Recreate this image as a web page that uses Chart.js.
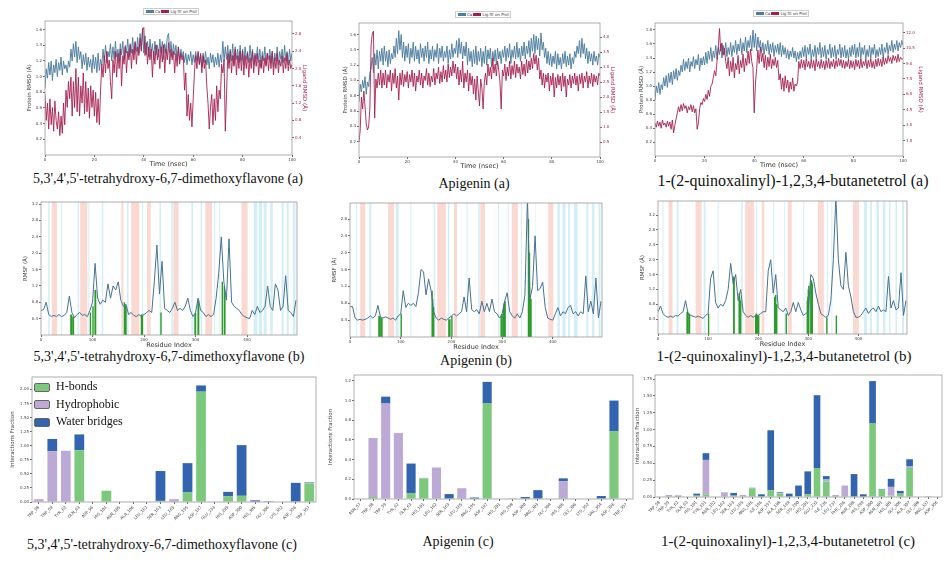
<!DOCTYPE html>
<html>
<head>
<meta charset="utf-8">
<script src="https://cdn.jsdelivr.net/npm/chart.js@4.4.1/dist/chart.umd.min.js"></script>
<style>
body { margin: 0; background: #fff; }
#fig { position: relative; width: 945px; height: 564px; overflow: hidden; background: #fff; }
.cap { position: absolute; font-family: "Liberation Serif", serif; font-size: 14px; color: #111; white-space: nowrap; transform: translate(-50%, -50%); }
.lg { position: absolute; font-family: "DejaVu Sans", sans-serif; font-size: 4px; line-height: 4px; color: #333; border: 0.5px solid #ccc; padding: 0.5px 1px; white-space: nowrap; z-index: 5; }
.lg i { display: inline-block; width: 8px; height: 3px; margin: 0 1px; vertical-align: middle; }
.blg { position: absolute; font-family: "Liberation Serif", serif; font-size: 12px; line-height: 17.5px; color: #111; z-index: 5; }
.blg i { display: inline-block; width: 14px; height: 7px; border: 1px solid #666; border-radius: 2px; margin-right: 6px; vertical-align: middle; }
</style>
</head>
<body>
<div id="fig">
  <div class="lg" style="left:143px;top:8px"><i style="background:#4e7d9e"></i>Cα<i style="background:#a31e4d"></i>Lig fit on Prot</div>
  <div class="lg" style="left:455px;top:11px"><i style="background:#4e7d9e"></i>Cα<i style="background:#a31e4d"></i>Lig fit on Prot</div>
  <div class="lg" style="left:753px;top:10px"><i style="background:#4e7d9e"></i>Cα<i style="background:#a31e4d"></i>Lig fit on Prot</div>

  <div class="blg" style="left:34px;top:378px">
    <div><i style="background:#7cc87c"></i>H-bonds</div>
    <div><i style="background:#bca9d5"></i>Hydrophobic</div>
    <div><i style="background:#3264b0"></i>Water bridges</div>
  </div>

  <div class="cap" style="left:168px;top:179px">5,3',4',5'-tetrahydroxy-6,7-dimethoxyflavone (a)</div>
  <div class="cap" style="left:474px;top:184px">Apigenin (a)</div>
  <div class="cap" style="left:793px;top:181px;font-size:16px">1-(2-quinoxalinyl)-1,2,3,4-butanetetrol (a)</div>
  <div class="cap" style="left:169px;top:357px">5,3',4',5'-tetrahydroxy-6,7-dimethoxyflavone (b)</div>
  <div class="cap" style="left:476px;top:361px">Apigenin (b)</div>
  <div class="cap" style="left:784px;top:356px;font-size:15px">1-(2-quinoxalinyl)-1,2,3,4-butanetetrol (b)</div>
  <div class="cap" style="left:162px;top:545px">5,3',4',5'-tetrahydroxy-6,7-dimethoxyflavone (c)</div>
  <div class="cap" style="left:458px;top:542px">Apigenin (c)</div>
  <div class="cap" style="left:788px;top:541px;font-size:15px">1-(2-quinoxalinyl)-1,2,3,4-butanetetrol (c)</div>
</div>
<script>
// time in ns, one frame every 0.5 ns
var time = [];
for (var i = 0; i <= 200; i++) time.push(i / 2);

// RMSD, 5,3',4',5'-tetrahydroxy-6,7-dimethoxyflavone (protein: left axis, ligand: right axis)
var prot1 = [
  0.85,1.1,0.98,1.18,1.02,1.2,0.95,1.15,1.05,1.22,1.0,1.18,1.08,1.25,1.02,1.2,1.1,1.15,1.05,1.2,
  1.12,1.35,1.2,1.42,1.25,1.45,1.18,1.38,1.22,1.32,1.1,1.28,1.15,1.3,1.08,1.25,1.12,1.22,1.05,1.28,
  1.1,1.25,1.05,1.3,1.08,1.22,1.15,1.35,1.2,1.4,1.18,1.32,1.25,1.42,1.2,1.38,1.22,1.45,1.25,1.35,
  1.2,1.42,1.28,1.45,1.22,1.4,1.3,1.48,1.25,1.42,1.3,1.5,1.28,1.45,1.32,1.5,1.3,1.55,1.35,1.62,
  1.3,1.52,1.28,1.45,1.25,1.48,1.3,1.42,1.22,1.45,1.28,1.4,1.25,1.48,1.3,1.45,1.22,1.42,1.3,1.5,
  1.55,1.3,1.45,1.25,1.42,1.28,1.4,1.22,1.38,1.2,1.35,1.25,1.32,1.18,1.3,1.15,1.28,1.2,1.32,1.15,
  1.28,1.18,1.32,1.2,1.3,1.15,1.28,1.12,1.3,1.18,1.32,1.15,1.25,1.1,1.3,1.18,1.28,1.12,1.25,1.15,
  1.3,1.12,1.28,1.18,1.45,1.2,1.38,1.22,1.4,1.18,1.35,1.2,1.42,1.15,1.38,1.22,1.35,1.18,1.4,1.2,
  1.35,1.15,1.38,1.22,1.32,1.18,1.4,1.2,1.35,1.15,1.3,1.22,1.38,1.18,1.35,1.12,1.32,1.2,1.38,1.15,
  1.3,1.22,1.35,1.18,1.32,1.12,1.3,1.2,1.38,1.15,1.32,1.22,1.35,1.18,1.4,1.2,1.32,1.15,1.35,1.2,
  1.3];
var lig1 = [
  1.4,0.8,1.2,0.6,1.3,0.7,1.1,0.55,1.25,0.8,0.6,1.0,0.45,0.9,0.5,1.2,0.7,1.5,1.1,1.7,
  1.3,1.8,0.9,1.7,1.1,2.0,1.0,1.8,0.9,1.6,1.2,1.9,0.95,1.7,1.0,1.55,0.85,1.6,1.1,1.5,
  0.9,1.45,0.75,1.3,0.7,1.5,2.1,1.8,2.3,1.9,2.4,2.0,2.2,1.7,1.3,2.2,1.9,2.4,1.8,2.35,
  2.0,2.45,1.6,2.3,2.1,2.5,1.9,2.4,2.2,2.55,2.0,2.45,2.2,2.6,2.1,2.5,2.3,2.7,2.4,2.9,
  2.95,2.3,2.6,2.1,2.5,2.2,2.45,1.8,2.4,2.1,2.55,2.2,2.45,2.0,2.5,2.15,2.55,1.9,2.45,2.2,
  2.6,2.1,2.45,2.2,2.4,1.9,2.35,2.05,2.5,2.1,2.35,2.2,2.3,1.5,1.9,0.9,1.4,0.8,1.2,0.65,
  1.3,1.9,2.3,2.0,2.4,2.1,2.35,1.9,2.3,2.0,2.2,1.6,1.2,0.6,1.1,1.4,0.7,1.3,0.8,1.6,
  1.0,1.5,1.3,2.1,1.9,2.2,0.55,1.4,2.35,2.0,2.4,1.9,2.3,2.05,2.45,1.85,2.3,2.0,2.4,1.95,
  2.4,1.85,2.3,2.0,2.35,1.8,2.25,2.0,2.4,1.9,2.3,2.05,2.35,1.85,2.2,2.0,2.3,1.9,2.25,2.05,
  2.35,1.95,2.3,2.0,2.4,1.85,2.25,2.0,2.35,1.9,2.2,2.05,2.3,1.9,2.25,2.0,2.35,1.95,2.2,2.0,
  2.1];

// RMSD, apigenin
var prot2 = [
  0.72,0.95,0.85,1.0,0.9,1.05,0.82,0.98,0.92,1.1,1.15,1.3,1.1,1.35,1.2,1.4,1.15,1.38,1.25,1.42,
  1.2,1.45,1.25,1.38,1.18,1.4,1.22,1.35,1.28,1.45,1.3,1.55,1.35,1.65,1.4,1.6,1.3,1.5,1.25,1.45,
  1.3,1.48,1.22,1.42,1.3,1.5,1.25,1.45,1.28,1.4,1.22,1.48,1.3,1.42,1.25,1.45,1.3,1.5,1.22,1.4,
  1.28,1.45,1.25,1.4,1.3,1.48,1.22,1.42,1.3,1.45,1.25,1.38,1.3,1.45,1.22,1.4,1.28,1.48,1.3,1.42,
  1.35,1.52,1.3,1.55,1.35,1.5,1.28,1.45,1.32,1.5,1.2,1.42,1.25,1.38,1.18,1.4,1.22,1.45,1.2,1.38,
  1.25,1.42,1.18,1.38,1.22,1.45,1.2,1.4,1.28,1.42,1.18,1.38,1.25,1.4,1.2,1.42,1.28,1.38,1.22,1.4,
  1.3,1.45,1.25,1.42,1.3,1.48,1.22,1.4,1.3,1.45,1.28,1.5,1.3,1.42,1.25,1.45,1.32,1.5,1.28,1.45,
  1.35,1.52,1.3,1.55,1.38,1.6,1.35,1.58,1.4,1.55,1.32,1.62,1.4,1.5,1.3,1.42,1.22,1.38,1.2,1.35,
  1.18,1.32,1.22,1.38,1.15,1.35,1.2,1.3,1.15,1.35,1.22,1.38,1.18,1.32,1.2,1.35,1.15,1.3,1.22,1.38,
  1.3,1.45,1.35,1.52,1.3,1.55,1.35,1.48,1.28,1.42,1.22,1.38,1.25,1.35,1.2,1.38,1.25,1.32,1.2,1.35,
  1.3];
var lig2 = [
  0.5,0.9,2.0,1.6,2.2,1.7,1.1,0.9,1.0,1.6,3.7,4.1,4.2,1.3,2.6,2.3,2.8,2.4,2.9,2.3,
  2.8,2.4,2.9,2.3,2.75,2.5,2.9,2.2,2.8,2.45,2.95,2.3,2.7,1.9,2.8,2.4,2.9,2.35,2.75,2.5,
  2.85,2.3,2.75,2.5,2.9,2.35,2.8,2.2,2.7,2.5,2.9,2.4,2.8,2.3,2.7,2.55,2.95,2.4,2.8,2.35,
  2.7,2.5,2.95,2.4,2.8,2.6,3.0,2.45,2.85,2.5,3.05,2.6,2.9,2.5,3.1,2.65,3.0,2.7,3.2,2.8,
  3.1,2.6,3.0,2.4,2.9,2.5,3.2,2.3,2.8,2.5,2.9,2.2,2.8,2.4,2.7,2.1,2.6,1.9,2.7,2.2,
  1.7,2.6,2.3,1.6,2.5,2.8,2.4,3.1,2.7,3.0,2.6,3.3,2.8,3.1,2.7,3.2,2.9,2.5,1.6,2.9,
  2.7,3.1,2.55,3.0,2.7,3.2,2.6,3.05,2.75,3.2,2.65,3.1,2.8,3.0,2.6,3.2,2.75,3.1,2.7,3.25,
  2.8,3.2,2.9,3.3,2.95,3.45,3.1,3.4,2.9,3.3,2.6,2.9,2.4,2.8,2.3,2.75,2.5,2.8,2.2,2.7,
  2.4,2.8,2.0,2.65,2.3,2.75,2.4,2.7,2.2,2.8,2.35,2.7,2.0,2.6,2.4,2.75,2.3,2.7,2.45,2.8,
  2.4,2.7,2.2,2.75,2.45,2.8,2.3,2.7,2.5,2.85,2.3,2.7,2.45,2.8,2.35,2.75,2.5,2.7,2.4,2.8,
  2.7];

// RMSD, 1-(2-quinoxalinyl)-1,2,3,4-butanetetrol
var prot3 = [
  0.8,1.0,0.9,1.05,0.88,1.02,0.95,1.12,1.0,1.15,0.98,1.18,1.05,1.2,1.02,1.22,1.1,1.25,1.08,1.22,
  1.15,1.3,1.2,1.38,1.22,1.35,1.25,1.4,1.2,1.35,1.28,1.42,1.25,1.38,1.3,1.45,1.22,1.4,1.3,1.42,
  1.3,1.48,1.32,1.5,1.38,1.55,1.35,1.5,1.4,1.58,1.38,1.55,1.45,1.6,1.4,1.58,1.45,1.62,1.42,1.55,
  1.45,1.62,1.42,1.58,1.48,1.65,1.45,1.6,1.5,1.68,1.45,1.62,1.5,1.7,1.48,1.65,1.55,1.72,1.5,1.8,
  1.55,1.75,1.5,1.7,1.55,1.65,1.48,1.62,1.45,1.6,1.5,1.65,1.45,1.6,1.48,1.62,1.42,1.58,1.48,1.6,
  1.45,1.62,1.42,1.58,1.45,1.55,1.4,1.52,1.38,1.5,1.42,1.55,1.4,1.5,1.35,1.48,1.38,1.5,1.4,1.55,
  1.42,1.58,1.4,1.55,1.45,1.6,1.38,1.52,1.42,1.58,1.4,1.55,1.45,1.62,1.4,1.55,1.42,1.58,1.38,1.52,
  1.45,1.6,1.4,1.55,1.42,1.58,1.38,1.52,1.45,1.6,1.4,1.55,1.42,1.58,1.4,1.52,1.38,1.55,1.42,1.58,
  1.45,1.6,1.4,1.55,1.42,1.62,1.4,1.55,1.45,1.58,1.38,1.52,1.42,1.58,1.4,1.55,1.45,1.6,1.4,1.52,
  1.42,1.55,1.45,1.6,1.4,1.55,1.48,1.62,1.45,1.58,1.5,1.65,1.48,1.6,1.52,1.65,1.5,1.62,1.55,1.65,
  1.58];
var lig3 = [
  3.2,2.8,3.4,2.9,3.3,2.7,3.5,3.0,3.2,2.8,3.4,2.9,3.3,2.6,3.5,2.25,3.0,3.6,4.2,4.8,
  4.3,5.0,4.4,5.1,4.6,4.9,4.2,4.8,4.5,5.0,4.3,4.9,4.2,4.6,2.6,3.2,4.6,5.2,5.0,5.6,
  5.3,6.0,5.5,6.4,5.8,6.8,7.0,7.6,8.3,7.8,9.2,10.5,12.4,10.2,11.0,9.8,10.5,9.2,8.5,9.6,
  7.8,9.2,8.2,9.6,7.6,9.0,8.4,9.8,8.0,9.3,8.6,9.9,8.2,9.5,8.8,10.2,9.0,10.4,9.2,8.6,
  4.2,7.0,8.5,10.3,9.0,10.6,9.2,10.0,8.6,9.8,8.4,9.6,8.7,9.9,8.5,9.4,8.8,9.6,8.6,9.3,
  7.4,8.0,6.5,7.6,6.3,7.8,6.6,7.4,6.2,7.2,6.5,7.6,6.3,7.0,6.8,7.2,9.2,8.5,9.4,8.6,
  9.3,8.4,9.5,8.7,9.2,8.5,9.4,8.6,9.3,8.3,9.5,8.7,9.2,8.5,9.4,8.6,9.2,8.4,9.3,8.6,
  9.5,8.5,9.2,8.7,9.4,8.5,9.3,8.7,9.5,8.8,9.4,8.6,9.3,8.5,9.2,8.7,9.4,8.5,9.3,8.6,
  9.2,8.4,9.4,8.7,9.3,8.5,9.5,8.6,9.2,8.8,9.4,8.5,9.3,8.7,9.5,8.6,9.2,8.5,9.4,8.7,
  9.5,8.8,9.4,8.7,9.6,8.9,9.5,9.0,9.8,9.2,9.6,9.0,9.8,9.3,9.7,9.1,9.9,9.2,9.6,9.4,
  9.5];

// RMSF, residues sampled every 5
var residues = [];
for (var r = 0; r < 500; r += 5) residues.push(r);

var rmsf1 = [0.6,0.62,0.8,0.5,0.45,0.48,0.45,0.5,0.45,0.48,
  0.55,0.95,0.55,0.42,0.5,0.55,0.48,0.5,0.45,0.6,
  0.8,1.75,0.9,0.75,0.85,0.8,1.25,0.9,1.2,1.1,
  1.3,0.85,0.7,0.75,0.5,0.55,0.48,0.45,0.5,0.45,
  0.5,0.55,0.6,0.55,1.3,2.2,1.0,1.8,0.65,0.6,
  0.55,0.65,0.8,0.6,0.65,0.6,0.7,0.9,0.6,0.45,
  0.55,0.9,0.6,0.55,0.45,0.5,0.45,0.5,0.9,1.5,
  2.4,1.3,0.85,2.35,0.8,0.7,0.65,0.6,0.5,0.45,
  0.42,0.4,0.6,0.5,0.7,0.55,0.6,0.7,1.2,0.7,
  0.6,1.25,1.1,0.6,0.7,1.45,0.6,0.55,0.45,0.85];
var rmsf2 = [0.72,0.72,0.45,0.4,0.42,0.4,0.42,0.45,0.5,0.45,
  0.5,0.75,0.48,0.45,0.48,0.45,0.42,0.45,0.4,0.5,
  0.55,1.1,0.7,0.8,0.75,0.8,0.72,1.05,1.6,1.55,
  1.0,1.38,1.1,0.6,0.45,0.4,0.45,0.42,0.4,0.45,
  0.5,0.55,0.5,0.55,0.6,0.95,0.6,1.4,0.65,0.6,
  0.65,0.55,0.85,0.6,0.8,0.6,0.9,0.6,0.55,0.45,
  0.55,0.85,1.05,0.6,0.5,0.45,0.55,0.45,0.6,1.0,
  3.3,0.9,1.2,2.4,1.1,1.15,1.3,0.7,0.45,0.42,
  0.4,0.55,0.7,0.5,0.6,0.55,0.7,0.75,0.55,0.6,
  0.5,0.6,0.55,1.45,0.6,0.85,0.55,1.4,0.45,0.85];
var rmsf3 = [0.6,0.75,0.55,0.48,0.45,0.48,0.45,0.5,0.48,0.55,
  0.6,0.9,0.55,0.5,0.48,0.45,0.48,0.45,0.42,0.5,
  0.55,1.5,1.7,0.85,0.7,0.8,0.75,0.9,1.2,1.9,
  1.35,1.6,0.9,1.2,0.6,0.5,0.45,0.5,0.45,0.5,
  0.5,0.55,0.6,0.6,1.7,2.0,1.1,1.6,0.7,0.65,
  0.6,0.7,0.5,0.6,0.85,0.6,0.85,0.65,0.5,0.55,
  0.6,1.6,1.5,1.1,0.8,0.55,0.5,0.45,0.5,0.9,
  2.0,3.7,2.0,1.3,1.2,2.2,1.3,1.0,0.6,0.45,
  0.45,0.5,0.6,0.7,0.55,0.65,0.7,0.6,0.75,0.6,
  0.65,0.6,1.55,0.7,0.9,0.65,0.7,1.65,0.5,0.9];

// secondary structure ranges (residue from, to)
var helix1 = [[21,31],[76,90],[156,160],[175,191],[206,213],[257,267],[319,332],[389,401]];
var strand1 = [[14,17],[39,41],[71,74],[92,94],[118,121],[167,170],[196,198],[230,233],[253,256],[292,295],[310,313],[336,338],[346,348],[413,420],[423,429],[432,438],[445,450],[467,471],[477,481],[489,494]];
var helix2 = [[20,30],[75,87],[172,189],[205,211],[257,266],[319,331],[391,401]];
var strand2 = [[12,14],[38,42],[90,96],[119,121],[165,168],[193,196],[230,232],[253,256],[292,294],[311,313],[337,339],[366,367],[409,414],[419,425],[430,434],[442,449],[466,470],[477,482],[490,494]];
var helix3 = [[21,29],[75,87],[174,192],[207,212],[259,267],[319,331],[389,401]];
var strand3 = [[9,11],[37,41],[91,95],[119,121],[166,169],[196,198],[230,232],[252,254],[290,292],[337,339],[346,348],[411,417],[423,427],[436,441],[449,454],[461,464],[474,477],[487,491]];

// ligand contacts on the RMSF plots
var contacts1 = [58,59,62,63,96,101,105,106,162,163,165,195,197,233,299,300,305,306,352,356,357];
var contactH1 = [0.5,0.5,0.45,0.45,0.55,0.7,1.1,1.1,0.8,0.75,0.7,0.5,0.5,0.55,0.5,0.55,0.85,0.85,1.3,1.2,1.0];
var contacts2 = [57,58,59,62,63,101,162,163,165,195,197,201,298,300,303,304,305,306,352,354,356,357];
var contactH2 = [0.5,0.5,0.5,0.45,0.45,0.55,1.1,0.9,0.7,0.42,0.42,0.5,0.5,0.55,0.75,0.8,0.85,0.85,2.8,2.0,0.9,0.9];
var contacts3 = [58,59,62,63,101,151,152,162,163,165,195,196,197,198,199,200,201,233,235,237,256,298,299,300,301,305,306,307,308,337,356];
var contactH3 = [0.6,0.6,0.55,0.55,0.55,1.55,1.5,1.1,1.0,0.9,0.5,0.55,0.55,0.5,0.5,0.5,0.5,1.0,1.05,0.8,0.55,0.9,1.0,1.2,1.3,1.45,1.45,1.4,1.35,0.45,0.5];

// interaction fractions
var res1 = ['TRP_58','TRP_59','TYR_62','GLN_63','ASP_96','HIS_101','ASN_105','ALA_106','LEU_162','SER_163','LEU_165','ARG_195','ASP_197','GLU_233','HIS_299','ASP_300','HIS_305','GLY_306','LYS_352','ASP_356','TRP_357'];
var hb1 = [0,0,0,0.92,0,0.2,0,0,0,0.02,0.01,0.17,1.96,0,0.1,0.11,0,0,0,0.01,0.33];
var hp1 = [0.05,0.9,0.91,0,0,0,0,0,0,0,0.04,0,0,0,0,0,0,0,0,0,0.01];
var wb1 = [0,0.22,0,0.28,0,0,0,0,0,0.53,0,0.52,0.11,0,0.08,0.9,0.03,0.015,0,0.33,0.01];

var res2 = ['ASN_57','TRP_58','TRP_59','TYR_62','GLN_63','HIS_101','LEU_162','SER_163','LEU_165','ARG_195','ASP_197','HIS_201','HIS_298','ASP_300','ARG_303','GLY_304','HIS_305','GLY_306','LYS_352','VAL_354','ASP_356','TRP_357'];
var hb2 = [0,0.02,0,0,0.06,0.21,0,0,0,0,0.97,0,0,0,0,0,0.01,0,0,0,0.69,0];
var hp2 = [0,0.6,0.97,0.67,0,0.005,0.32,0,0.11,0,0,0,0.008,0,0,0,0.17,0,0,0,0,0];
var wb2 = [0,0,0.07,0,0.3,0,0,0.05,0,0.015,0.22,0,0,0.02,0.09,0,0.03,0,0,0.03,0.31,0];

var res3 = ['TRP_58','TRP_59','TYR_62','GLN_63','HIS_101','TYR_151','ASN_152','LEU_162','SER_163','LEU_165','ARG_195','ILE_196','ASP_197','ALA_198','SER_199','LYS_200','HIS_201','GLU_233','ILE_235','LEU_237','PHE_256','ASN_298','HIS_299','ASP_300','ASN_301','HIS_305','GLY_306','ALA_307','GLY_308','ARG_337','ASP_356'];
var hb3 = [0,0,0,0,0.02,0.04,0,0,0.02,0,0.13,0,0.1,0.05,0,0.01,0.04,0.43,0.23,0,0,0,0,1.09,0.11,0.02,0.05,0.43,0,0,0];
var hp3 = [0,0.03,0.01,0,0,0.51,0,0.07,0,0.03,0.01,0,0,0.01,0,0,0,0,0.03,0.03,0.17,0,0,0,0,0.13,0,0.03,0,0,0];
var wb3 = [0,0,0.01,0,0.03,0.1,0,0,0.04,0,0,0.04,0.89,0.01,0.05,0.16,0.34,1.08,0.05,0,0,0.34,0.04,0.63,0.01,0.12,0.04,0.1,0,0.01,0];

Chart.defaults.font.family = "'DejaVu Sans', sans-serif";
Chart.defaults.color = '#444';
Chart.defaults.animation = false;

function pts(xs, ys) {
  return xs.map(function (x, i) { return { x: x, y: ys[i] }; });
}

// vertical stems from 0 up to h, broken by null points
function stems(xs, hs) {
  var out = [];
  xs.forEach(function (x, i) {
    out.push({ x: x, y: 0 }, { x: x, y: hs[i] }, { x: x, y: null });
  });
  return out;
}

// canvas sized so the plot area lands on g (l,t,r,b)
function canvasFor(g, L, R, B, T) {
  var c = document.createElement('canvas');
  var w = g.r - g.l + L + R, h = g.b - g.t + T + B;
  c.width = w; c.height = h;
  c.style.cssText = 'position:absolute;left:' + (g.l - L) + 'px;top:' + (g.t - T) + 'px;width:' + w + 'px;height:' + h + 'px';
  document.getElementById('fig').appendChild(c);
  return c;
}

var frame = {
  id: 'frame',
  afterDatasetsDraw: function (chart) {
    var a = chart.chartArea, c = chart.ctx;
    c.save();
    c.strokeStyle = '#9a9a9a';
    c.lineWidth = 0.8;
    c.strokeRect(a.left, a.top, a.right - a.left, a.bottom - a.top);
    c.restore();
  }
};

function bandPlugin(helix, strand) {
  return {
    id: 'bands',
    beforeDatasetsDraw: function (chart) {
      var x = chart.scales.x, a = chart.chartArea, c = chart.ctx;
      c.save();
      c.beginPath();
      c.rect(a.left, a.top, a.right - a.left, a.bottom - a.top);
      c.clip();
      c.fillStyle = '#fbd9d3';
      helix.forEach(function (h) {
        var x0 = x.getPixelForValue(h[0]), x1 = x.getPixelForValue(h[1]);
        c.fillRect(x0, a.top, x1 - x0, a.bottom - a.top);
      });
      c.fillStyle = '#d4eef8';
      strand.forEach(function (s) {
        var x0 = x.getPixelForValue(s[0]), x1 = x.getPixelForValue(s[1]);
        c.fillRect(x0, a.top, x1 - x0, a.bottom - a.top);
      });
      c.restore();
    }
  };
}

function xScale(max, step, title, B) {
  return {
    type: 'linear', min: 0, max: max, offset: false,
    ticks: { stepSize: step, font: { size: 4 }, padding: 1, color: '#444' },
    grid: { drawOnChartArea: false, offset: false, tickLength: 2, color: '#666' },
    border: { display: false },
    title: { display: true, text: title, font: { size: 6.5 }, color: '#333', padding: 0 },
    // round ticks only (0, step, 2*step ... up to max)
    afterBuildTicks: function (s) {
      var t = [];
      for (var v = 0; v <= max + 1e-9; v += step) t.push({ value: v });
      s.ticks = t;
    },
    afterFit: function (s) { s.height = B; s.paddingLeft = 0; s.paddingRight = 0; }
  };
}

function yScale(max, step, dec, title, W, pos, col, zero) {
  return {
    type: 'linear', position: pos, min: 0, max: max,
    ticks: {
      stepSize: step, includeBounds: false, font: { size: 4 }, padding: 1, color: col,
      callback: function (v) { return (v === 0 && !zero) ? '' : v.toFixed(dec); }
    },
    grid: { drawOnChartArea: false, tickLength: 2, color: function (c) { return (c.tick && c.tick.value === 0 && !zero) ? 'rgba(0,0,0,0)' : '#666'; } },
    border: { display: false },
    title: { display: true, text: title, color: col, font: { size: 5.5 }, padding: 0 },
    afterFit: function (s) { s.width = W; s.paddingTop = 0; s.paddingBottom = 0; }
  };
}

function rmsdChart(g, prot, lig, lmax, rmax, rstep, L, R) {
  var cv = canvasFor(g, L, R, 13, 2);
  new Chart(cv, {
    type: 'line',
    data: {
      datasets: [
        { data: pts(time, lig), yAxisID: 'y1', borderColor: 'rgba(163,30,77,0.88)', borderWidth: 1, pointRadius: 0, order: 0 },
        { data: pts(time, prot), yAxisID: 'y', borderColor: 'rgba(78,125,158,0.95)', borderWidth: 1, pointRadius: 0, order: 1 }
      ]
    },
    options: {
      responsive: false, devicePixelRatio: 1,
      layout: { padding: { top: 2, left: 0, right: 0, bottom: 0 } },
      plugins: { legend: { display: false }, tooltip: { enabled: false } },
      scales: {
        x: xScale(100, 20, 'Time (nsec)', 13),
        y: yScale(lmax, 0.2, 1, 'Protein RMSD (Å)', L, 'left', '#444', false),
        y1: yScale(rmax, rstep, 1, 'Ligand RMSD (Å)', R, 'right', '#a3234f', false)
      }
    },
    plugins: [frame]
  });
}

function rmsfChart(g, vals, helix, strand, cres, ch, ymax) {
  var cv = canvasFor(g, 19, 4, 14, 2);
  new Chart(cv, {
    type: 'line',
    data: {
      datasets: [
        { data: pts(residues, vals), borderColor: '#46728f', borderWidth: 1, pointRadius: 0, order: 0 },
        { data: stems(cres, ch), borderColor: '#2b9b2b', borderWidth: 1.4, pointRadius: 0, spanGaps: false, order: 1 }
      ]
    },
    options: {
      responsive: false, devicePixelRatio: 1,
      layout: { padding: { top: 2, left: 0, right: 4, bottom: 0 } },
      plugins: { legend: { display: false }, tooltip: { enabled: false } },
      scales: {
        x: xScale(497, 100, 'Residue Index', 14),
        y: yScale(ymax, 0.4, 1, 'RMSF (Å)', 19, 'left', '#444', false)
      }
    },
    plugins: [bandPlugin(helix, strand), frame]
  });
}

function barChart(g, labels, hb, hp, wb, ymax, step, dec, L) {
  var cv = canvasFor(g, L, 3, 30, 2);
  var y = yScale(ymax, step, dec, 'Interactions Fraction', L, 'left', '#444', true);
  y.stacked = true;
  new Chart(cv, {
    type: 'bar',
    data: {
      labels: labels,
      datasets: [
        { label: 'H-bonds', data: hb, backgroundColor: '#7cc87c' },
        { label: 'Hydrophobic', data: hp, backgroundColor: '#bca9d5' },
        { label: 'Water bridges', data: wb, backgroundColor: '#3264b0' }
      ]
    },
    options: {
      responsive: false, devicePixelRatio: 1,
      layout: { padding: { top: 2, left: 0, right: 3, bottom: 0 } },
      plugins: { legend: { display: false }, tooltip: { enabled: false } },
      scales: {
        x: {
          stacked: true,
          ticks: { font: { size: 4 }, autoSkip: false, maxRotation: 45, minRotation: 45, padding: 1, color: '#444' },
          grid: { drawOnChartArea: false, offset: false, tickLength: 2, color: '#666' },
          border: { display: false },
          afterFit: function (s) { s.height = 30; s.paddingLeft = 0; s.paddingRight = 0; }
        },
        y: y
      }
    },
    plugins: [frame]
  });
}

rmsdChart({ l: 45, t: 21, r: 292, b: 155 }, prot1, lig1, 1.71, 3.1, 0.4, 19, 16);
rmsdChart({ l: 359, t: 23, r: 600, b: 157 }, prot2, lig2, 1.75, 4.47, 0.5, 17, 16);
rmsdChart({ l: 655, t: 23, r: 903, b: 156 }, prot3, lig3, 1.9, 12.94, 1.5, 17, 21);

rmsfChart({ l: 41, t: 202, r: 297, b: 335 }, rmsf1, helix1, strand1, contacts1, contactH1, 3.25);
rmsfChart({ l: 350, t: 203, r: 602, b: 337 }, rmsf2, helix2, strand2, contacts2, contactH2, 3.18);
rmsfChart({ l: 658, t: 201, r: 907, b: 334 }, rmsf3, helix3, strand3, contacts3, contactH3, 3.58);

barChart({ l: 32, t: 377, r: 316, b: 502 }, res1, hb1, hp1, wb1, 2.22, 0.25, 2, 23);
barChart({ l: 354, t: 375, r: 633, b: 499 }, res2, hb2, hp2, wb2, 1.26, 0.2, 1, 27);
barChart({ l: 655, t: 375, r: 942, b: 497 }, res3, hb3, hp3, wb3, 1.81, 0.25, 2, 21);
</script>
</body>
</html>
